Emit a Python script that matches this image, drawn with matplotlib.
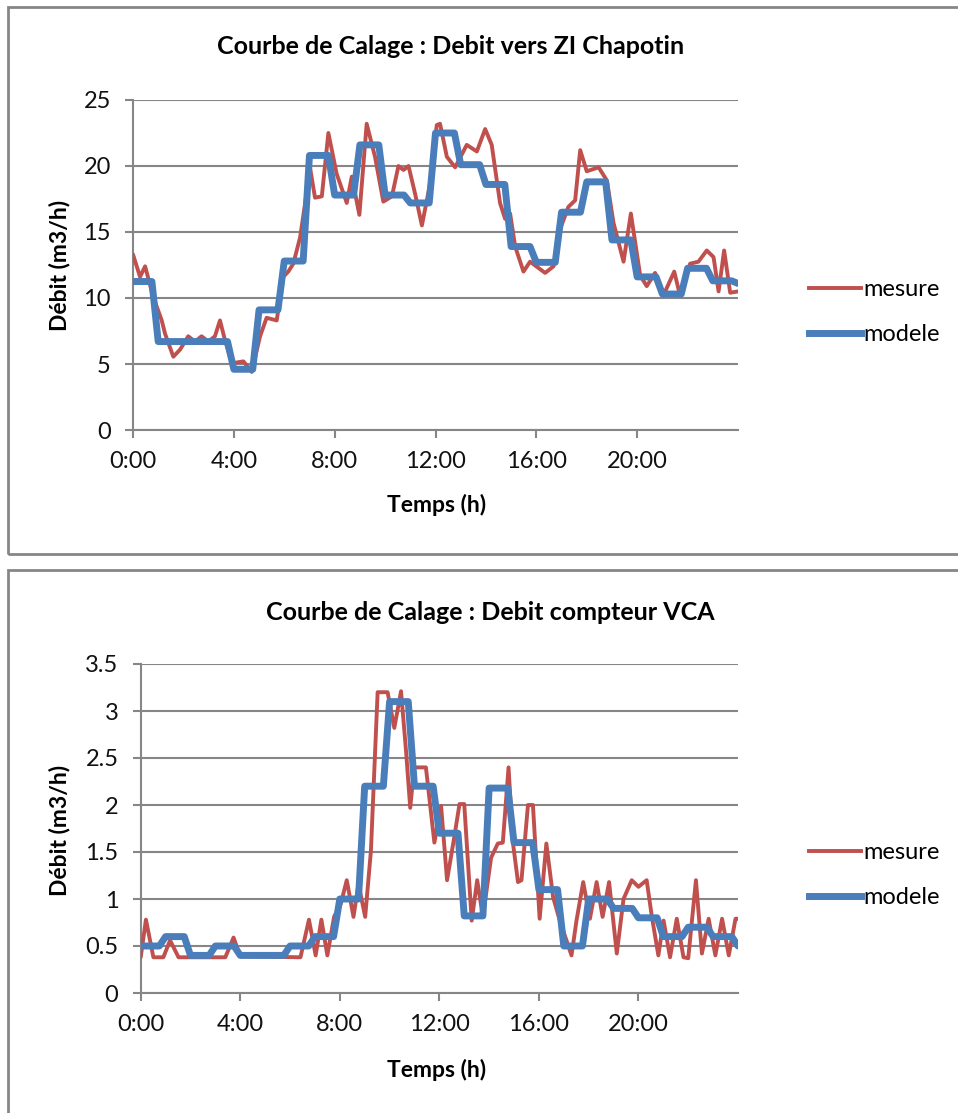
import numpy as np
import matplotlib.pyplot as plt
from matplotlib.patches import Rectangle
from matplotlib.lines import Line2D

# --- donnees ---
# graphe 1 : debit vers ZI Chapotin (m3/h)
top_mes_t = [0, 0.28, 0.48, 0.8, 1.14, 1.27, 1.6, 1.87, 2.19, 2.46, 2.72, 2.99, 3.25, 3.45, 3.65,
             3.92, 4.38, 4.71, 5.04, 5.3, 5.7, 5.96, 6.16, 6.36, 6.63, 6.83, 7.02, 7.22, 7.49, 7.75,
             8.08, 8.48, 8.68, 8.98, 9.27, 9.6, 9.93, 10.27, 10.53, 10.73, 10.93, 11.19, 11.46, 11.79,
             12.05, 12.18, 12.45, 12.78, 13.24, 13.64, 13.97, 14.23, 14.56, 14.76, 14.96, 15.16, 15.49,
             15.75, 16.35, 16.68, 16.94, 17.27, 17.54, 17.74, 18.0, 18.47, 18.8, 19.06, 19.46, 19.75,
             20.12, 20.38, 20.71, 21.04, 21.47, 21.7, 22.1, 22.43, 22.76, 23.03, 23.23, 23.45, 23.69, 24.0]
top_mes_v = [13.3, 11.6, 12.4, 10.1, 8.3, 7.3, 5.55, 6.1, 7.1, 6.7, 7.1, 6.7, 7.1, 8.3, 6.8,
             5.05, 5.2, 4.4, 7.1, 8.5, 8.3, 11.6, 12.0, 12.6, 14.6, 17.2, 19.9, 17.6, 17.7, 22.5,
             19.4, 17.2, 19.2, 16.3, 23.2, 20.7, 17.3, 17.7, 20.0, 19.7, 20.0, 17.9, 15.5, 18.7,
             23.1, 23.2, 20.7, 19.9, 21.6, 21.1, 22.8, 21.6, 17.2, 16.0, 16.4, 13.9, 12.0,
             12.75, 11.9, 12.4, 15.2, 16.9, 17.4, 21.2, 19.6, 19.9, 18.9, 15.7, 12.75, 16.4,
             11.7, 10.9, 11.9, 10.2, 12.0, 10.2, 12.6, 12.75, 13.6, 13.1, 10.5, 13.6, 10.4, 10.5]
# modele : une valeur par heure (pas de 15 min), plus la valeur a 24:00
top_mod_h = [11.25, 6.7, 6.7, 6.7, 4.6, 9.1, 12.8, 20.8, 17.8, 21.6, 17.8, 17.2,
             22.5, 20.1, 18.6, 13.9, 12.7, 16.5, 18.8, 14.4, 11.6, 10.3, 12.25, 11.3]
top_mod_fin = 11.1

# graphe 2 : debit compteur VCA (m3/h)
bot_mes_t = [0, 0.21, 0.51, 0.91, 1.18, 1.52, 3.4, 3.73, 4.0, 6.42, 6.76, 7.03, 7.26, 7.5, 7.77,
             8.04, 8.28, 8.55, 8.75, 9.02, 9.25, 9.52, 9.92, 10.19, 10.46, 10.66, 10.83, 10.99, 11.46,
             11.8, 12.07, 12.31, 12.6, 12.81, 13.0, 13.3, 13.52, 13.75, 14.08, 14.35, 14.55, 14.78,
             14.96, 15.16, 15.3, 15.56, 15.76, 16.03, 16.3, 16.57, 16.84, 17.31, 17.51, 17.78, 18.05,
             18.32, 18.56, 18.82, 19.13, 19.4, 19.73, 20.0, 20.33, 20.54, 20.8, 21.01, 21.27, 21.54,
             21.81, 22.0, 22.31, 22.55, 22.82, 23.09, 23.36, 23.63, 23.9, 24.0]
bot_mes_v = [0.38, 0.78, 0.38, 0.38, 0.56, 0.38, 0.38, 0.59, 0.39, 0.38, 0.78, 0.4, 0.78, 0.4, 0.81,
             0.95, 1.2, 0.81, 1.16, 0.81, 1.51, 3.2, 3.2, 2.82, 3.21, 2.58, 1.97, 2.4, 2.4,
             1.6, 1.99, 1.2, 1.66, 2.01, 2.01, 0.77, 1.2, 0.81, 1.44, 1.59, 1.6, 2.4,
             1.59, 1.18, 1.2, 2.0, 2.0, 0.79, 1.59, 1.02, 0.77, 0.4, 0.77, 1.18, 0.79,
             1.18, 0.81, 1.18, 0.42, 1.0, 1.2, 1.13, 1.2, 0.81, 0.4, 0.77, 0.38, 0.79,
             0.38, 0.37, 1.2, 0.42, 0.79, 0.4, 0.79, 0.4, 0.79, 0.79]
bot_mod_h = [0.5, 0.6, 0.4, 0.5, 0.4, 0.4, 0.5, 0.6, 1.0, 2.2, 3.1, 2.2,
             1.7, 0.82, 2.18, 1.6, 1.1, 0.5, 1.0, 0.9, 0.8, 0.6, 0.7, 0.6]
bot_mod_fin = 0.5

x_ticks = [0, 4, 8, 12, 16, 20]
x_labels = ['0:00', '4:00', '8:00', '12:00', '16:00', '20:00']
top_yticks = [0, 5, 10, 15, 20, 25]
bot_yticks = [0, 0.5, 1, 1.5, 2, 2.5, 3, 3.5]

titres = ['Courbe de Calage : Debit vers ZI Chapotin', 'Courbe de Calage : Debit compteur VCA']

ROUGE = '#C0504D'
BLEU = '#4A7EBB'
GRIS = '#868686'

plt.rcParams['font.family'] = ['Lato', 'DejaVu Sans']

W, H = 958, 1113
fig = plt.figure(figsize=(W / 100, H / 100), dpi=100)


def fx(px):
    return px / W


def fy(py):
    return 1 - py / H


# cadres des deux graphiques
for (y0, y1) in [(7, 554), (570, 1125)]:
    fig.add_artist(Rectangle((fx(8), fy(y1)), fx(960) - fx(8), fy(y0) - fy(y1),
                             transform=fig.transFigure, fill=False, edgecolor=GRIS, linewidth=2))

t15 = np.arange(97) * 0.25


def graphe(rect, mes_t, mes_v, mod_h, mod_fin, yticks, titre, tx, ty, xlab_y, ylab_yc, leg_y):
    ax = fig.add_axes(rect)
    mod_v = np.append(np.repeat(mod_h, 4), mod_fin)
    ax.plot(mes_t, mes_v, color=ROUGE, lw=2.8, solid_joinstyle='round', solid_capstyle='round', zorder=3)
    ax.plot(t15, mod_v, color=BLEU, lw=5, solid_joinstyle='round', solid_capstyle='round', zorder=4)
    ax.set_xlim(0, 24)
    ax.set_ylim(yticks[0], yticks[-1])
    ax.set_yticks(yticks)
    ax.set_yticklabels(['{:g}'.format(v) for v in yticks])
    ax.set_xticks(x_ticks)
    ax.set_xticklabels(x_labels)
    ax.grid(axis='y', color=GRIS, lw=1.5)
    ax.set_axisbelow(True)
    for s in ['top', 'right']:
        ax.spines[s].set_visible(False)
    for s in ['left', 'bottom']:
        ax.spines[s].set_color(GRIS)
        ax.spines[s].set_linewidth(1.5)
    ax.tick_params(axis='both', colors=GRIS, labelcolor='#111111', labelsize=17, length=6, width=1.5)
    ax.tick_params(axis='y', pad=10)
    ax.tick_params(axis='x', pad=9)
    fig.text(fx(tx), fy(ty), titre, ha='center', va='center', fontsize=18, fontweight='bold')
    fig.text(fx(437), fy(xlab_y), 'Temps (h)', ha='center', va='center', fontsize=16.5, fontweight='bold')
    fig.text(fx(60), fy(ylab_yc), 'Débit (m3/h)', ha='center', va='center', rotation=90,
             fontsize=16.5, fontweight='bold')
    poignees = [Line2D([], [], color=ROUGE, lw=2.8), Line2D([], [], color=BLEU, lw=5)]
    ax.legend(poignees, ['mesure', 'modele'], loc='center left', bbox_to_anchor=(fx(797), fy(leg_y)),
              bbox_transform=fig.transFigure, frameon=False, fontsize=17, borderpad=0,
              handlelength=2.2, handletextpad=0.1, labelspacing=1.0)
    return ax


graphe([fx(133), fy(430), fx(738) - fx(133), fy(100) - fy(430)], top_mes_t, top_mes_v,
       top_mod_h, top_mod_fin, top_yticks, titres[0], 451, 47, 505, 265, 312)
graphe([fx(140.7), fy(993), fx(738) - fx(140.7), fy(664) - fy(993)], bot_mes_t, bot_mes_v,
       bot_mod_h, bot_mod_fin, bot_yticks, titres[1], 490, 612, 1070, 830, 875)

plt.savefig('out.png', dpi=100)
